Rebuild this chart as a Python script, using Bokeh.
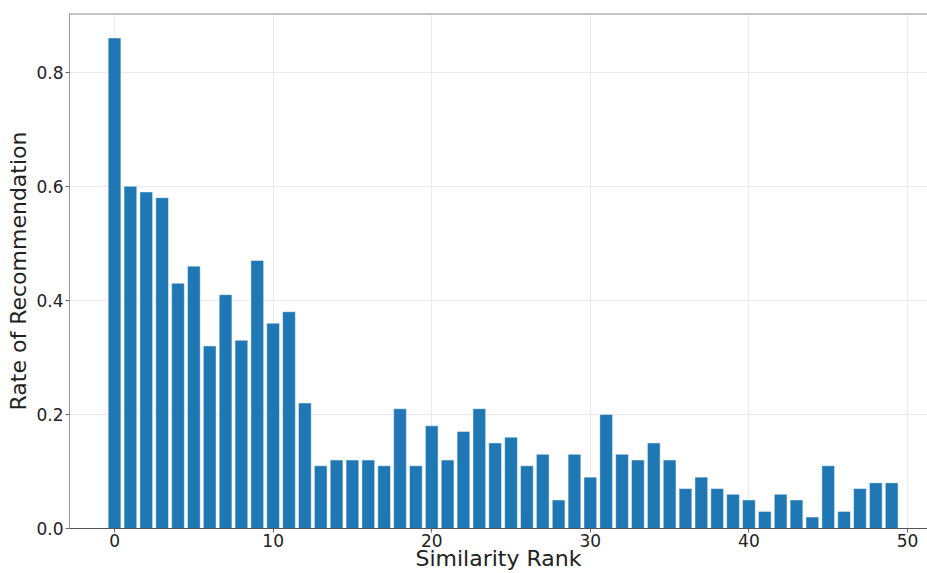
from bokeh.plotting import figure
from bokeh.embed import file_html
from bokeh.resources import INLINE
from bokeh.models import Range1d, FixedTicker, ColumnDataSource, CustomJSTickFormatter, Span

ranks = list(range(50))
rates = [0.86, 0.60, 0.59, 0.58, 0.43, 0.46, 0.32, 0.41, 0.33, 0.47,
         0.36, 0.38, 0.22, 0.11, 0.12, 0.12, 0.12, 0.11, 0.21, 0.11,
         0.18, 0.12, 0.17, 0.21, 0.15, 0.16, 0.11, 0.13, 0.05, 0.13,
         0.09, 0.20, 0.13, 0.12, 0.15, 0.12, 0.07, 0.09, 0.07, 0.06,
         0.05, 0.03, 0.06, 0.05, 0.02, 0.11, 0.03, 0.07, 0.08, 0.08]
x_ticks = [0, 10, 20, 30, 40, 50]
y_ticks = [0.0, 0.2, 0.4, 0.6, 0.8]
x_label = "Similarity Rank"
y_label = "Rate of Recommendation"
y_top = 0.903

src = ColumnDataSource(dict(x=ranks, top=rates))

p = figure(width=927, height=573, output_backend="svg", toolbar_location=None,
           x_range=Range1d(-2.84, 51.26), y_range=Range1d(0, y_top),
           min_border_left=69, min_border_right=0, min_border_top=13,
           min_border_bottom=43)

p.vbar(x="x", top="top", width=0.8, source=src, fill_color="#1f77b4",
       line_color="white", line_alpha=0.45, line_width=1)

p.outline_line_color = None
p.add_layout(Span(location=y_top, dimension="width", line_color="#8a8a8a", line_width=2))

for ax in (p.xaxis[0], p.yaxis[0]):
    ax.major_tick_out = 4
    ax.major_tick_in = 0
    ax.major_tick_line_color = "#666666"
    ax.minor_tick_line_color = None
    ax.major_label_text_font = "DejaVu Sans"
    ax.major_label_text_font_size = "17px"
    ax.major_label_text_color = "#222222"
    ax.axis_label_text_font = "DejaVu Sans"
    ax.axis_label_text_font_size = "22px"
    ax.axis_label_text_font_style = "normal"
    ax.axis_label_text_color = "#222222"

p.xaxis.ticker = FixedTicker(ticks=x_ticks)
p.yaxis.ticker = FixedTicker(ticks=y_ticks)
p.yaxis.formatter = CustomJSTickFormatter(code="return tick.toFixed(1);")
p.xaxis.axis_label = x_label
p.yaxis.axis_label = y_label
p.xaxis.axis_line_color = "#555555"
p.yaxis.axis_line_color = "#999999"
p.xaxis.major_label_standoff = 1
p.xaxis.axis_label_standoff = -4
p.yaxis.major_label_standoff = 2
p.yaxis.axis_label_standoff = 2

p.xgrid.grid_line_color = "#ebebeb"
p.ygrid.grid_line_color = "#ebebeb"
p.xgrid.ticker = FixedTicker(ticks=x_ticks)
p.ygrid.ticker = FixedTicker(ticks=y_ticks)

open("out.html", "w").write(file_html(p, INLINE))
